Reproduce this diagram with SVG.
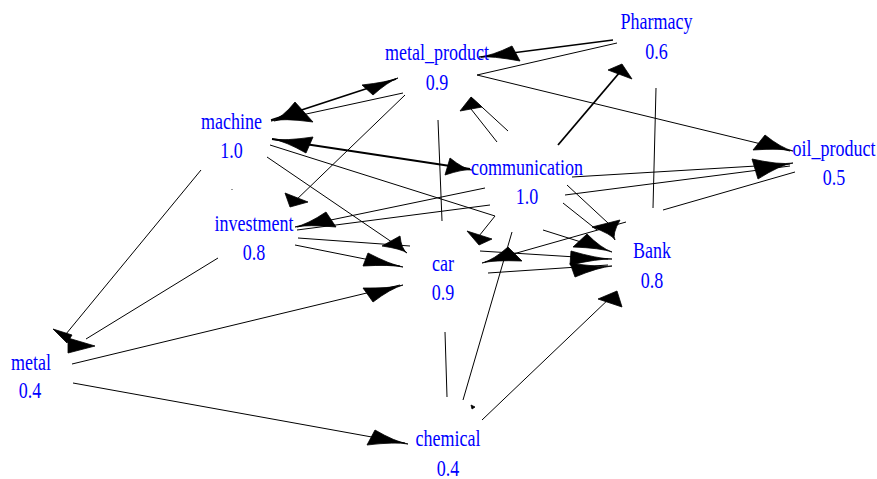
<svg xmlns="http://www.w3.org/2000/svg" width="877" height="479" viewBox="0 0 877 479">
<style>
.e{stroke:#000;stroke-width:1;fill:none}
.b{stroke-width:1.8}
.m{stroke-width:1.3}
.ah{fill:#000;stroke:#000;stroke-width:0.8;stroke-linejoin:miter}
.lbl{font-family:"Liberation Serif","Times New Roman",serif;font-size:18px;fill:#0000ff;text-anchor:middle}
</style>
<rect width="877" height="479" fill="#fff"/>
<g id="connectors">
<line class="e m" x1="613" y1="40" x2="481" y2="57"/>
<line class="e" x1="617" y1="43" x2="477" y2="75"/>
<line class="e" x1="477" y1="75" x2="790" y2="151"/>
<line class="e b" x1="271" y1="120" x2="396" y2="79"/>
<line class="e" x1="403" y1="93" x2="274" y2="121"/>
<line class="e" x1="405" y1="95" x2="293" y2="203"/>
<line class="e" x1="497" y1="142" x2="471" y2="109"/>
<line class="e" x1="508" y1="131" x2="471" y2="97"/>
<line class="e b" x1="558" y1="145" x2="620" y2="72"/>
<line class="e" x1="572" y1="177" x2="790" y2="164"/>
<line class="e" x1="565" y1="195" x2="790" y2="166"/>
<line class="e b" x1="272" y1="139" x2="470" y2="169"/>
<line class="e" x1="267" y1="157" x2="405" y2="251"/>
<line class="e" x1="270" y1="145" x2="495" y2="216"/>
<line class="e" x1="543" y1="230" x2="600" y2="248"/>
<line class="e" x1="485" y1="188" x2="297" y2="227"/>
<line class="e" x1="490" y1="205" x2="297" y2="230"/>
<line class="e" x1="298" y1="238" x2="410" y2="246"/>
<line class="e" x1="295" y1="245" x2="400" y2="266"/>
<line class="e" x1="72" y1="364" x2="400" y2="285"/>
<line class="e" x1="73" y1="383" x2="405" y2="443"/>
<line class="e" x1="201" y1="170" x2="66" y2="334"/>
<line class="e" x1="218" y1="258" x2="86" y2="339"/>
<line class="e" x1="495" y1="216" x2="479" y2="236"/>
<line class="e" x1="626" y1="222" x2="485" y2="262"/>
<line class="e" x1="480" y1="251" x2="608" y2="259"/>
<line class="e" x1="488" y1="273" x2="608" y2="265"/>
<line class="e" x1="567" y1="185" x2="608" y2="223"/>
<line class="e" x1="563" y1="203" x2="597" y2="230"/>
<line class="e" x1="438" y1="120" x2="442" y2="221"/>
<line class="e" x1="656" y1="88" x2="653" y2="208"/>
<line class="e" x1="663" y1="210" x2="795" y2="172"/>
<line class="e" x1="463" y1="400" x2="512" y2="232"/>
<line class="e" x1="445" y1="332" x2="447" y2="397"/>
<line class="e" x1="482" y1="420" x2="612" y2="296"/>
<path class="ah" d="M479,57Q492,55.8 512,46L520,61Q492,55.8 479,57Z"/>
<path class="ah" d="M793,151Q781.1,148 765,135L753,150Q781.1,148 793,151Z"/>
<path class="ah" d="M398,78Q387.3,82.2 362,85L373,95Q387.3,82.2 398,78Z"/>
<path class="ah" d="M271,121Q282.6,117.9 295,102L313,122Q282.6,117.9 271,121Z"/>
<path class="ah" d="M290,207L285,193L308,202Z"/>
<path class="ah" d="M471,97L460,111L482,107Z"/>
<path class="ah" d="M622,64L608,70L632,79Z"/>
<path class="ah" d="M793,163Q779.7,165.1 752,159L758,179Q779.7,165.1 793,163Z"/>
<path class="ah" d="M272,139Q285.1,141.1 313,137L306,153Q285.1,141.1 272,139Z"/>
<path class="ah" d="M472,170Q463.4,168.8 450,158L445,175Q463.4,168.8 472,170Z"/>
<path class="ah" d="M407,253Q401.4,248.8 400,236L382,246Q401.4,248.8 407,253Z"/>
<path class="ah" d="M403,267Q389.9,264.4 368,253L363,266Q389.9,264.4 403,267Z"/>
<path class="ah" d="M403,285Q390.8,288.5 363,288L373,302Q390.8,288.5 403,285Z"/>
<path class="ah" d="M408,444Q395,441.7 375,430L367,445Q395,441.7 408,444Z"/>
<path class="ah" d="M617,291L598,299L622,307Z"/>
<path class="ah" d="M68,353L68,338L95,346Z"/>
<path class="ah" d="M67,343L53,329L72,335Z"/>
<path class="ah" d="M295,227Q307.6,224.4 326,212L336,227Q307.6,224.4 295,227Z"/>
<path class="ah" d="M479,245L467,231L492,239Z"/>
<path class="ah" d="M482,263Q493.6,259.9 508,247L522,261Q493.6,259.9 482,263Z"/>
<path class="ah" d="M612,259Q597.5,258.7 571,251L570,265Q597.5,258.7 612,259Z"/>
<path class="ah" d="M612,266Q598.2,267.4 570,263L575,277Q598.2,267.4 612,266Z"/>
<path class="ah" d="M615,240Q611.9,234.2 592,227L620,220Q611.9,234.2 615,240Z"/>
<path class="ah" d="M612,252Q600.8,248 587,234L573,247Q600.8,248 612,252Z"/>
<path class="ah" d="M471,405L475,407L472,409Z"/>
<rect x="231" y="189" width="2" height="1" fill="#999"/>
</g>
<g id="metal_product" transform="translate(437,60) scale(1,1.28)">
<text class="lbl" x="0" y="0">metal_product</text>
<text class="lbl" x="0" y="23.4">0.9</text>
</g>
<g id="Pharmacy" transform="translate(656.5,29) scale(1,1.28)">
<text class="lbl" x="0" y="0">Pharmacy</text>
<text class="lbl" x="0" y="23.4">0.6</text>
</g>
<g id="machine" transform="translate(231.5,128.5) scale(1,1.28)">
<text class="lbl" x="0" y="0">machine</text>
<text class="lbl" x="0" y="23.4">1.0</text>
</g>
<g id="communication" transform="translate(527,175) scale(1,1.28)">
<text class="lbl" x="0" y="0">communication</text>
<text class="lbl" x="0" y="22.3">1.0</text>
</g>
<g id="oil_product" transform="translate(834,156) scale(1,1.28)">
<text class="lbl" x="0" y="0">oil_product</text>
<text class="lbl" x="0" y="22.7">0.5</text>
</g>
<g id="investment" transform="translate(254,231) scale(1,1.28)">
<text class="lbl" x="0" y="0">investment</text>
<text class="lbl" x="0" y="22.9">0.8</text>
</g>
<g id="car" transform="translate(443,271) scale(1,1.28)">
<text class="lbl" x="0" y="0">car</text>
<text class="lbl" x="0" y="22.9">0.9</text>
</g>
<g id="Bank" transform="translate(652,257.5) scale(1,1.28)">
<text class="lbl" x="0" y="0">Bank</text>
<text class="lbl" x="0" y="24">0.8</text>
</g>
<g id="metal" transform="translate(31,370) scale(1,1.28)">
<text class="lbl" x="0" y="0">metal</text>
<text class="lbl" x="-1" y="22.1">0.4</text>
</g>
<g id="chemical" transform="translate(448,446) scale(1,1.28)">
<text class="lbl" x="0" y="0">chemical</text>
<text class="lbl" x="0" y="23.4">0.4</text>
</g>
</svg>
